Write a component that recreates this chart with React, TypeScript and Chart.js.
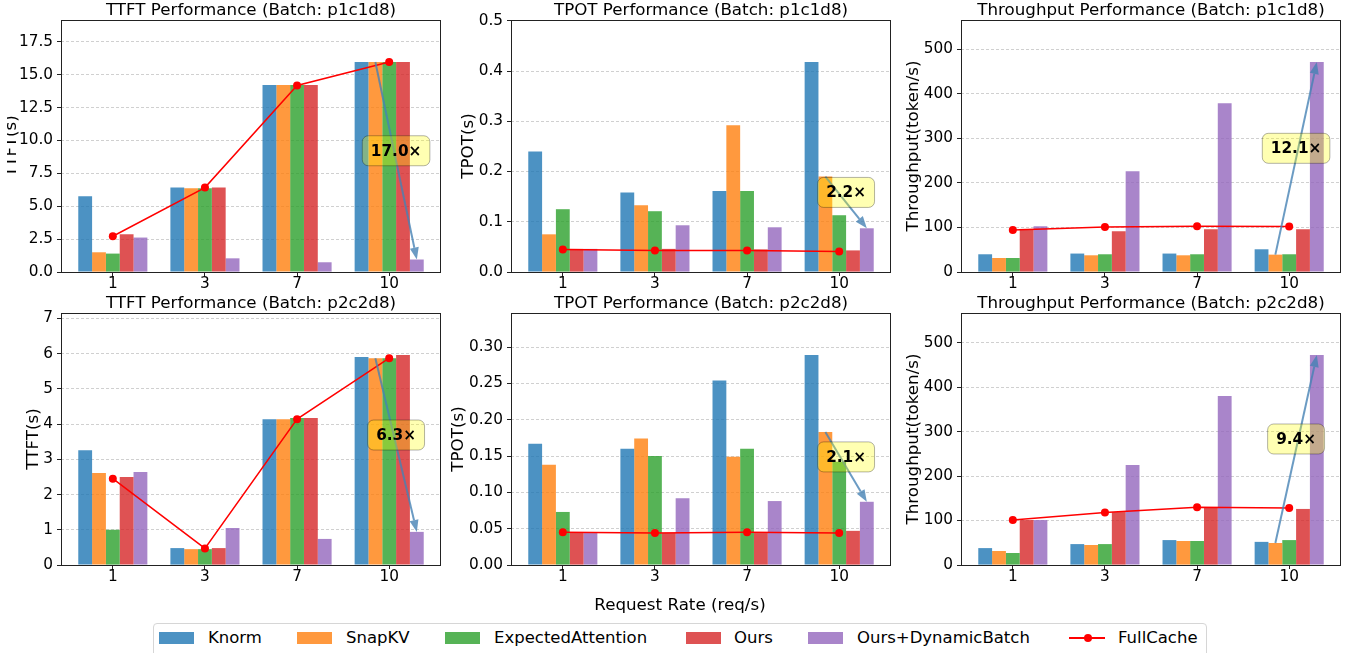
import React, { useEffect, useRef } from "react";
import { Chart, registerables } from "chart.js";

Chart.register(...registerables);

// ---------- data ----------
const categories = ["1", "3", "7", "10"];
const methods = ["Knorm", "SnapKV", "ExpectedAttention", "Ours", "Ours+DynamicBatch"];
const fullCacheLabel = "FullCache";

// TTFT p1c1d8
const ttftP1Knorm = [5.77, 6.43, 14.22, 15.97];
const ttftP1SnapKV = [1.5, 6.37, 14.22, 15.97];
const ttftP1Expected = [1.4, 6.37, 14.22, 15.97];
const ttftP1Ours = [2.87, 6.43, 14.22, 15.97];
const ttftP1Dynamic = [2.62, 1.04, 0.74, 0.95];
const ttftP1Full = [2.72, 6.42, 14.19, 15.97];

// TPOT p1c1d8
const tpotP1Knorm = [0.24, 0.158, 0.161, 0.418];
const tpotP1SnapKV = [0.075, 0.133, 0.292, 0.19];
const tpotP1Expected = [0.125, 0.121, 0.161, 0.113];
const tpotP1Ours = [0.046, 0.046, 0.045, 0.043];
const tpotP1Dynamic = [0.046, 0.093, 0.089, 0.087];
const tpotP1Full = [0.045, 0.043, 0.043, 0.041];

// Throughput p1c1d8
const thrP1Knorm = [39.8, 41.4, 41.4, 51];
const thrP1SnapKV = [31.5, 37.5, 37.5, 39];
const thrP1Expected = [31.5, 39.8, 39.8, 39.8];
const thrP1Ours = [96.7, 91.5, 96, 96];
const thrP1Dynamic = [102.7, 226.4, 379, 471.5];
const thrP1Full = [94.5, 101.2, 102.7, 102];

// TTFT p2c2d8
const ttftP2Knorm = [3.26, 0.48, 4.14, 5.9];
const ttftP2SnapKV = [2.61, 0.45, 4.14, 5.87];
const ttftP2Expected = [1.0, 0.45, 4.17, 5.87];
const ttftP2Ours = [2.5, 0.48, 4.17, 5.96];
const ttftP2Dynamic = [2.64, 1.05, 0.74, 0.94];
const ttftP2Full = [2.45, 0.47, 4.14, 5.87];

// TPOT p2c2d8
const tpotP2Knorm = [0.167, 0.16, 0.254, 0.289];
const tpotP2SnapKV = [0.138, 0.174, 0.149, 0.183];
const tpotP2Expected = [0.073, 0.15, 0.16, 0.142];
const tpotP2Ours = [0.045, 0.044, 0.044, 0.047];
const tpotP2Dynamic = [0.044, 0.092, 0.088, 0.087];
const tpotP2Full = [0.045, 0.044, 0.045, 0.044];

// Throughput p2c2d8
const thrP2Knorm = [38, 47, 56, 52];
const thrP2SnapKV = [31.5, 45, 54, 49.5];
const thrP2Expected = [27, 47, 54, 56];
const thrP2Ours = [101, 119, 130, 126];
const thrP2Dynamic = [101, 225, 380, 472];
const thrP2Full = [101, 118, 130, 128];

// tick values
const ttftP1Ticks = [0, 2.5, 5, 7.5, 10, 12.5, 15, 17.5];
const tpotP1Ticks = [0, 0.1, 0.2, 0.3, 0.4, 0.5];
const thrTicks = [0, 100, 200, 300, 400, 500];
const ttftP2Ticks = [0, 1, 2, 3, 4, 5, 6, 7];
const tpotP2Ticks = [0, 0.05, 0.1, 0.15, 0.2, 0.25, 0.3];

// speed-up labels
const speedupLabels = ["17.0×", "2.2×", "12.1×", "6.3×", "2.1×", "9.4×"];

// ---------- styles ----------
const FONT = '"DejaVu Sans", "Liberation Sans", sans-serif';
const barColors = [
  "rgba(31,119,180,0.8)",
  "rgba(255,127,14,0.8)",
  "rgba(44,160,44,0.8)",
  "rgba(214,39,40,0.8)",
  "rgba(148,103,189,0.8)",
];
const lineColor = "#ff0000";

type PanelProps = {
  title: string;
  yTitle: string;
  series: number[][];
  full: number[];
  yTicks: number[];
  decimals: number;
  label: string;
  left: number;
  top: number;
  width: number;
  height: number;
  plotLeft: number; // page coords
  yTitleX: number; // page coords
};

function Panel(p: PanelProps) {
  const ref = useRef<HTMLCanvasElement | null>(null);
  useEffect(() => {
    const canvas = ref.current!;
    const yMax = Math.max(...p.series.flat(), ...p.full) * 1.2;
    const padTop = 20;
    const padRight = 2;
    const xAxisHeight = 28;
    const yAxisWidth = p.plotLeft - p.left;

    const decor = {
      id: "decor",
      afterDatasetsDraw(chart: any) {
        const ctx = chart.ctx as CanvasRenderingContext2D;
        const from = chart.getDatasetMeta(1).data[3];
        const to = chart.getDatasetMeta(4).data[3];
        const x1 = from.x, y1 = from.y, x2 = to.x, y2 = to.y;
        ctx.save();
        // arrow
        const ang = Math.atan2(y2 - y1, x2 - x1);
        const headLen = 12, headW = 4.5;
        const bx = x2 - headLen * Math.cos(ang);
        const by = y2 - headLen * Math.sin(ang);
        ctx.strokeStyle = "rgba(70,130,180,0.8)";
        ctx.fillStyle = "rgba(70,130,180,0.8)";
        ctx.lineWidth = 2;
        ctx.beginPath();
        ctx.moveTo(x1, y1);
        ctx.lineTo(bx, by);
        ctx.stroke();
        ctx.beginPath();
        ctx.moveTo(x2, y2);
        ctx.lineTo(bx + headW * Math.sin(ang), by - headW * Math.cos(ang));
        ctx.lineTo(bx - headW * Math.sin(ang), by + headW * Math.cos(ang));
        ctx.closePath();
        ctx.fill();
        // box
        const mx = (x1 + x2) / 2;
        const my = (y1 + y2) / 2 - 10;
        ctx.font = `bold 15.3px ${FONT}`;
        const tw = ctx.measureText(p.label).width;
        const w = tw + 17, h = 30;
        ctx.beginPath();
        (ctx as any).roundRect(mx - w / 2, my - h / 2, w, h, 6);
        ctx.fillStyle = "rgba(255,255,0,0.3)";
        ctx.fill();
        ctx.strokeStyle = "rgba(0,0,0,0.3)";
        ctx.lineWidth = 1;
        ctx.stroke();
        ctx.fillStyle = "#000";
        ctx.textAlign = "center";
        ctx.textBaseline = "middle";
        ctx.fillText(p.label, mx, my + 1);
        ctx.restore();
      },
      afterDraw(chart: any) {
        const ctx = chart.ctx as CanvasRenderingContext2D;
        const a = chart.chartArea;
        ctx.save();
        ctx.strokeStyle = "#222";
        ctx.lineWidth = 1;
        ctx.strokeRect(Math.round(a.left) + 0.5, Math.round(a.top) + 0.5, Math.round(a.right - a.left) - 1, Math.round(a.bottom - a.top));
        // title
        ctx.fillStyle = "#000";
        ctx.font = `16.7px ${FONT}`;
        ctx.textAlign = "center";
        ctx.textBaseline = "alphabetic";
        ctx.fillText(p.title, (a.left + a.right) / 2, a.top - 5);
        // y title
        ctx.translate(p.yTitleX - p.left, (a.top + a.bottom) / 2);
        ctx.rotate(-Math.PI / 2);
        ctx.textBaseline = "middle";
        ctx.fillText(p.yTitle, 0, 0);
        ctx.restore();
      },
    };

    const datasets: any[] = methods.map((m, i) => ({
      type: "bar",
      label: m,
      data: p.series[i].map((v, j) => ({ x: j, y: v })),
      backgroundColor: barColors[i],
      borderWidth: 0,
      categoryPercentage: 0.75,
      barPercentage: 1,
      order: 2,
    }));
    datasets.push({
      type: "line",
      label: fullCacheLabel,
      data: p.full.map((v, j) => ({ x: j, y: v })),
      borderColor: lineColor,
      backgroundColor: lineColor,
      borderWidth: 1.5,
      pointRadius: 4,
      pointBorderWidth: 0,
      pointBackgroundColor: lineColor,
      order: 1,
    });

    const chart = new Chart(canvas, {
      type: "bar",
      data: { datasets },
      options: {
        animation: false,
        responsive: false,
        maintainAspectRatio: false,
        devicePixelRatio: 1,
        layout: { padding: { top: padTop, right: padRight, left: 0, bottom: 0 } },
        plugins: { legend: { display: false }, tooltip: { enabled: false }, title: { display: false } },
        scales: {
          x: {
            type: "linear",
            min: -0.5625,
            max: 3.5625,
            offset: false,
            border: { display: false },
            grid: { offset: false, drawOnChartArea: false, drawTicks: true, tickLength: 4, tickColor: "#222", tickWidth: 1 },
            ticks: {
              color: "#000",
              font: { family: FONT, size: 15.3 },
              padding: -1,
              maxRotation: 0,
              autoSkip: false,
              callback: (v: any) => categories[v as number] ?? "",
            },
            afterBuildTicks: (s: any) => {
              s.ticks = categories.map((_, i) => ({ value: i }));
            },
            afterFit: (s: any) => {
              s.height = xAxisHeight;
            },
          },
          y: {
            type: "linear",
            min: 0,
            max: yMax,
            border: { display: false, dash: [3, 2] },
            grid: { offset: false, color: "#c4c4c4", lineWidth: 0.8, tickLength: 4, tickColor: "#222", tickWidth: 1, tickBorderDash: [] },
            ticks: {
              color: "#000",
              font: { family: FONT, size: 15.3 },
              padding: 4,
              callback: (v: any) => Number(v).toFixed(p.decimals),
            },
            afterBuildTicks: (s: any) => {
              s.ticks = p.yTicks.map((v) => ({ value: v }));
            },
            afterFit: (s: any) => {
              s.width = yAxisWidth;
            },
          },
        },
      } as any,
      plugins: [decor],
    });
    return () => chart.destroy();
  }, []);
  return (
    <canvas
      ref={ref}
      width={p.width}
      height={p.height}
      style={{ position: "absolute", left: p.left, top: p.top, width: p.width, height: p.height }}
    />
  );
}

const legendItems = [
  { name: methods[0], color: barColors[0], patchX: 159, textX: 208 },
  { name: methods[1], color: barColors[1], patchX: 297, textX: 346 },
  { name: methods[2], color: barColors[2], patchX: 445, textX: 494 },
  { name: methods[3], color: barColors[3], patchX: 686, textX: 734 },
  { name: methods[4], color: barColors[4], patchX: 808, textX: 857 },
];

export default function App() {
  const panels: PanelProps[] = [
    {
      title: "TTFT Performance (Batch: p1c1d8)", yTitle: "TTFT(s)",
      series: [ttftP1Knorm, ttftP1SnapKV, ttftP1Expected, ttftP1Ours, ttftP1Dynamic], full: ttftP1Full,
      yTicks: ttftP1Ticks, decimals: 1, label: speedupLabels[0],
      left: 7, top: 0, width: 438, height: 300, plotLeft: 61, yTitleX: 12,
    },
    {
      title: "TPOT Performance (Batch: p1c1d8)", yTitle: "TPOT(s)",
      series: [tpotP1Knorm, tpotP1SnapKV, tpotP1Expected, tpotP1Ours, tpotP1Dynamic], full: tpotP1Full,
      yTicks: tpotP1Ticks, decimals: 1, label: speedupLabels[1],
      left: 450, top: 0, width: 445, height: 300, plotLeft: 511, yTitleX: 469,
    },
    {
      title: "Throughput Performance (Batch: p1c1d8)", yTitle: "Throughput(token/s)",
      series: [thrP1Knorm, thrP1SnapKV, thrP1Expected, thrP1Ours, thrP1Dynamic], full: thrP1Full,
      yTicks: thrTicks, decimals: 0, label: speedupLabels[2],
      left: 900, top: 0, width: 445, height: 300, plotLeft: 961, yTitleX: 914,
    },
    {
      title: "TTFT Performance (Batch: p2c2d8)", yTitle: "TTFT(s)",
      series: [ttftP2Knorm, ttftP2SnapKV, ttftP2Expected, ttftP2Ours, ttftP2Dynamic], full: ttftP2Full,
      yTicks: ttftP2Ticks, decimals: 0, label: speedupLabels[3],
      left: 7, top: 293, width: 438, height: 300, plotLeft: 61, yTitleX: 34,
    },
    {
      title: "TPOT Performance (Batch: p2c2d8)", yTitle: "TPOT(s)",
      series: [tpotP2Knorm, tpotP2SnapKV, tpotP2Expected, tpotP2Ours, tpotP2Dynamic], full: tpotP2Full,
      yTicks: tpotP2Ticks, decimals: 2, label: speedupLabels[4],
      left: 450, top: 293, width: 445, height: 300, plotLeft: 511, yTitleX: 459,
    },
    {
      title: "Throughput Performance (Batch: p2c2d8)", yTitle: "Throughput(token/s)",
      series: [thrP2Knorm, thrP2SnapKV, thrP2Expected, thrP2Ours, thrP2Dynamic], full: thrP2Full,
      yTicks: thrTicks, decimals: 0, label: speedupLabels[5],
      left: 900, top: 293, width: 445, height: 300, plotLeft: 961, yTitleX: 914,
    },
  ];
  return (
    <div
      style={{
        position: "absolute", left: 0, top: 0, width: 1353, height: 653, overflow: "hidden",
        background: "#fff", fontFamily: FONT, color: "#000",
      }}
    >
      {panels.map((p, i) => (
        <Panel key={i} {...p} />
      ))}
      <div
        style={{
          position: "absolute", left: 0, width: 1360, top: 594, textAlign: "center",
          fontSize: 16.7, lineHeight: "20px", whiteSpace: "nowrap",
        }}
      >
        Request Rate (req/s)
      </div>
      <div
        style={{
          position: "absolute", left: 153, top: 623, width: 1054, height: 40,
          border: "1px solid #d6d6d6", borderRadius: 4, background: "#fff", boxSizing: "border-box",
        }}
      />
      {legendItems.map((it) => (
        <React.Fragment key={it.name}>
          <div style={{ position: "absolute", left: it.patchX, top: 632, width: 35, height: 12, background: it.color }} />
          <div style={{ position: "absolute", left: it.textX, top: 630, fontSize: 16.5, lineHeight: "16.5px", whiteSpace: "nowrap" }}>
            {it.name}
          </div>
        </React.Fragment>
      ))}
      <div style={{ position: "absolute", left: 1069, top: 637, width: 36, height: 2, background: lineColor }} />
      <div style={{ position: "absolute", left: 1084, top: 634, width: 8, height: 8, borderRadius: 4, background: lineColor }} />
      <div style={{ position: "absolute", left: 1118, top: 630, fontSize: 16.5, lineHeight: "16.5px", whiteSpace: "nowrap" }}>
        {fullCacheLabel}
      </div>
    </div>
  );
}
